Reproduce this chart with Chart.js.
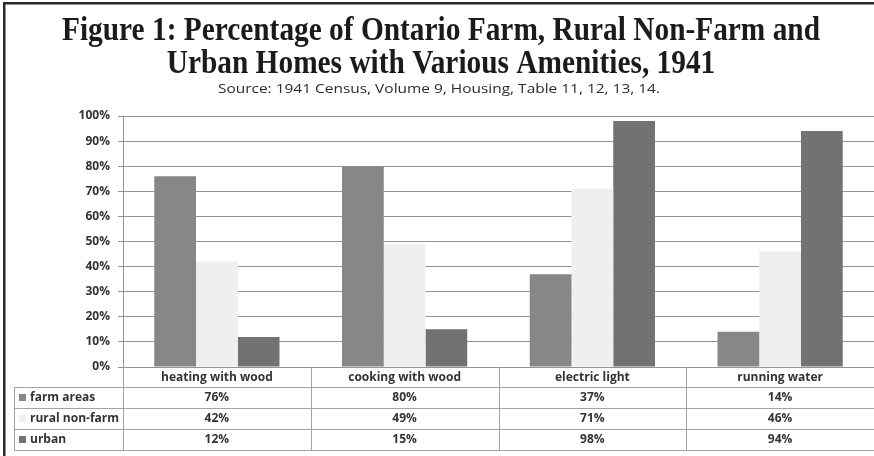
<!DOCTYPE html>
<html><head><meta charset="utf-8">
<script src="https://cdn.jsdelivr.net/npm/chart.js@4.4.0/dist/chart.umd.min.js"></script>
<style>
html,body{margin:0;padding:0;background:#fff;}
canvas{display:block;}
</style></head><body>
<canvas id="c" width="874" height="456"></canvas>
<script>
const titleLines = ["Figure 1: Percentage of Ontario Farm, Rural Non-Farm and", "Urban Homes with Various Amenities, 1941"];
const subtitleText = "Source: 1941 Census, Volume 9, Housing, Table 11, 12, 13, 14.";
const categories = ["heating with wood", "cooking with wood", "electric light", "running water"];
const seriesNames = ["farm areas", "rural non-farm", "urban"];
const farmAreas = [76, 80, 37, 14];
const ruralNonFarm = [42, 49, 71, 46];
const urban = [12, 15, 98, 94];
const seriesColors = ["#878787", "#efefef", "#727272"];
const yMin = 0, yMax = 100, yStep = 10;

const seriesValues = [farmAreas, ruralNonFarm, urban];
const TEXT = "#333333";
const LINE = "#a3a3a3";
const FONT = "'Open Sans', 'DejaVu Sans', sans-serif";

const framePlugin = {
  id: 'frameTitleTable',
  beforeDraw(chart) {
    const ctx = chart.ctx;
    ctx.save();
    ctx.fillStyle = '#fff';
    ctx.fillRect(0, 0, chart.width, chart.height);
    ctx.fillStyle = '#2a2a2a';
    ctx.fillRect(3, 2, chart.width - 3, 2.5);
    ctx.fillRect(3, 2, 2.5, chart.height - 2);
    ctx.restore();
  },
  afterDraw(chart) {
    const ctx = chart.ctx;
    const ca = chart.chartArea;
    const xs = chart.scales.x;
    ctx.save();
    // title
    ctx.fillStyle = '#1b1b1b';
    ctx.textAlign = 'center';
    ctx.textBaseline = 'alphabetic';
    ctx.font = "bold 34px 'Liberation Serif', 'DejaVu Serif', serif";
    const w1 = ctx.measureText(titleLines[0]).width;
    const sx = 758 / w1;
    const titleBase = [40, 73];
    titleLines.forEach((t, i) => {
      ctx.save();
      ctx.translate(441, titleBase[i]);
      ctx.scale(sx, 1);
      ctx.fillText(t, 0, 0);
      ctx.restore();
    });
    // subtitle
    ctx.fillStyle = '#2b2b2b';
    ctx.font = "13.5px " + FONT;
    const ws = ctx.measureText(subtitleText).width;
    ctx.save();
    ctx.translate(439, 93);
    ctx.scale(442 / ws, 1);
    ctx.fillText(subtitleText, 0, 0);
    ctx.restore();

    // data table
    const bounds = [ca.left];
    for (let i = 0; i < categories.length - 1; i++) {
      bounds.push((xs.getPixelForValue(i) + xs.getPixelForValue(i + 1)) / 2);
    }
    bounds.push(ca.right);
    const top = ca.bottom;
    const headerH = 20, rowH = 21;
    const legendLeft = 14;
    const rowTops = [top + headerH];
    for (let r = 1; r <= seriesNames.length; r++) rowTops.push(top + headerH + rowH * r);
    const bottom = rowTops[rowTops.length - 1];

    ctx.strokeStyle = LINE;
    ctx.lineWidth = 1;
    ctx.beginPath();
    rowTops.forEach(y => {
      ctx.moveTo(legendLeft, Math.round(y) + 0.5);
      ctx.lineTo(ca.right, Math.round(y) + 0.5);
    });
    for (let i = 0; i < bounds.length - 1; i++) {
      const x = Math.round(bounds[i]) + 0.5;
      ctx.moveTo(x, top);
      ctx.lineTo(x, bottom);
    }
    ctx.moveTo(legendLeft + 0.5, rowTops[0]);
    ctx.lineTo(legendLeft + 0.5, bottom);
    ctx.stroke();

    ctx.fillStyle = TEXT;
    ctx.font = "bold 12px " + FONT;
    ctx.textAlign = 'center';
    ctx.textBaseline = 'middle';
    categories.forEach((c, i) => {
      ctx.fillText(c, (bounds[i] + bounds[i + 1]) / 2, top + headerH / 2 + 0.5);
    });
    seriesNames.forEach((name, r) => {
      const yc = rowTops[r] + rowH / 2 + 0.5;
      ctx.fillStyle = seriesColors[r];
      ctx.fillRect(19, Math.round(yc - 4), 7, 7);
      ctx.fillStyle = TEXT;
      ctx.textAlign = 'left';
      ctx.fillText(name, 30, yc);
      ctx.textAlign = 'center';
      seriesValues[r].forEach((v, i) => {
        ctx.fillText(v + '%', (bounds[i] + bounds[i + 1]) / 2, yc);
      });
    });
    ctx.restore();
  }
};

new Chart(document.getElementById('c'), {
  type: 'bar',
  data: {
    labels: categories,
    datasets: seriesNames.map((n, i) => ({
      label: n,
      data: seriesValues[i],
      backgroundColor: seriesColors[i],
      borderWidth: 0,
      categoryPercentage: 0.667,
      barPercentage: 1
    }))
  },
  options: {
    responsive: false,
    animation: false,
    devicePixelRatio: 1,
    layout: { padding: { left: 14, right: -5, top: 116, bottom: 89 } },
    plugins: { legend: { display: false }, title: { display: false }, tooltip: { enabled: false } },
    scales: {
      x: { display: false },
      y: {
        min: yMin, max: yMax,
        ticks: {
          stepSize: yStep,
          callback: v => v + '%',
          font: { family: FONT, size: 12, weight: 'bold' },
          color: TEXT,
          padding: 8
        },
        grid: { color: '#949494', tickLength: 5, lineWidth: 1 },
        border: { display: true, color: '#949494' },
        afterFit: s => { s.width = 109; }
      }
    }
  },
  plugins: [framePlugin]
});
</script>
</body></html>
